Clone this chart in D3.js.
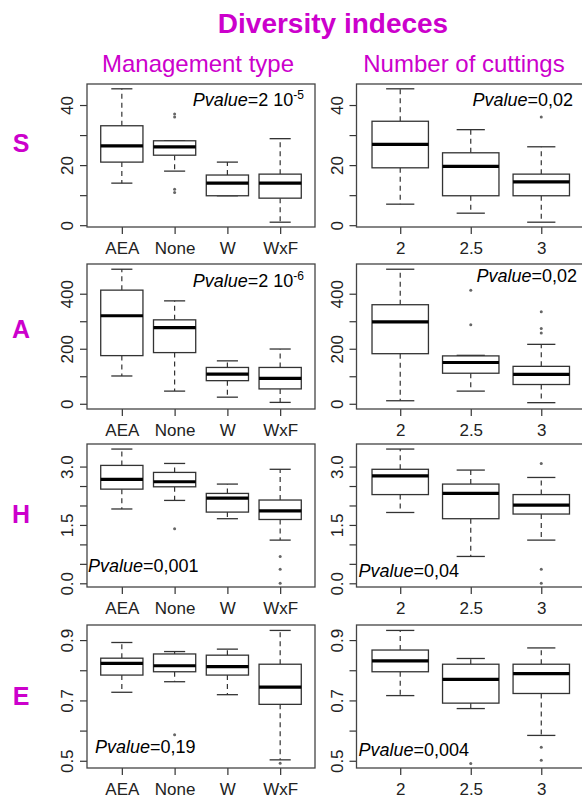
<!DOCTYPE html>
<html>
<head>
<meta charset="utf-8">
<script src="https://cdn.jsdelivr.net/npm/d3@7"></script>
<style>
  body { margin: 0; background: #fff; }
  svg { display: block; font-family: "Liberation Sans", Arial, sans-serif; }
</style>
</head>
<body>
<div id="chart"></div>
<script>
// groups
var management = ["AEA", "None", "W", "WxF"];
var cuttings = ["2", "2.5", "3"];
var indices = ["S", "A", "H", "E"];

// boxes: [lower whisker, Q1, median, Q3, upper whisker]
var S_management = [[14, 21, 26.4, 33.1, 45.4], [18, 23.3, 26.1, 28.1, 28.1], [9.8, 9.8, 14, 16.7, 21], [1, 9, 14, 17, 28.8]];
var S_management_out = [[], [36, 37, 12, 10.9], [], []];
var S_cuttings = [[7, 19.1, 26.9, 34.6, 45.4], [4, 9.8, 19.6, 24.1, 31.8], [1, 9.8, 14.4, 17, 26.1]];
var S_cuttings_out = [[], [], [36]];

var A_management = [[101, 175, 320, 413, 489], [46, 186, 277, 305, 374], [24, 84, 108, 132, 156], [5, 54, 92, 132, 199]];
var A_management_out = [[], [], [], []];
var A_cuttings = [[11, 182, 298, 360, 489], [46, 111, 150, 174, 176], [4, 70, 107, 136, 216]];
var A_cuttings_out = [[], [413, 287], [334, 274, 257]];

var H_management = [[1.91, 2.42, 2.67, 3.03, 3.45], [2.13, 2.48, 2.61, 2.85, 3.08], [1.66, 1.83, 2.19, 2.31, 2.55], [1.11, 1.64, 1.86, 2.14, 2.93]];
var H_management_out = [[], [1.40], [], [0.69, 0.36, 0.0]];
var H_cuttings = [[1.82, 2.28, 2.76, 2.93, 3.45], [0.69, 1.66, 2.31, 2.55, 2.91], [1.11, 1.78, 2.01, 2.28, 2.72]];
var H_cuttings_out = [[], [], [3.08, 0.36, 0.0]];

var E_management = [[0.727, 0.784, 0.823, 0.840, 0.892], [0.762, 0.795, 0.815, 0.854, 0.862], [0.719, 0.784, 0.812, 0.850, 0.870], [0.503, 0.687, 0.744, 0.820, 0.932]];
var E_management_out = [[], [0.586], [], [0.492]];
var E_cuttings = [[0.716, 0.795, 0.831, 0.867, 0.932], [0.673, 0.691, 0.770, 0.820, 0.839], [0.584, 0.723, 0.789, 0.820, 0.874]];
var E_cuttings_out = [[], [0.491], [0.545, 0.502]];

// y ticks and labelled ticks per index
var yTicks = [[0, 10, 20, 30, 40], [0, 100, 200, 300, 400], [0, 0.5, 1, 1.5, 2, 2.5, 3], [0.5, 0.6, 0.7, 0.8, 0.9]];
var yLabels = [["0", "", "20", "", "40"], ["0", "", "200", "", "400"], ["0.0", "", "", "1.5", "", "", "3.0"], ["0.5", "", "0.7", "", "0.9"]];

// p-values: [management, cuttings] per index
var pBase = [["2 10", "0,02"], ["2 10", "0,02"], ["0,001", "0,04"], ["0,19", "0,004"]];
var pExp = [["-5", ""], ["-6", ""], ["", ""], ["", ""]];

var magenta = "#cc00cc";
var lineCol = "#333";

var svg = d3.select("#chart").append("svg")
    .attr("width", 582)
    .attr("height", 798);

// layout
var cols = [
  {x0: 87, x1: 315, dom: [0.34, 4.66], cats: management},
  {x0: 356.5, x1: 585, dom: [0.38, 3.62], cats: cuttings}
];
var rows = [
  {y0: 84, y1: 227, dom: [-0.6, 47], labelY: 152},
  {y0: 264, y1: 409, dom: [-19, 508], labelY: 338},
  {y0: 444, y1: 587, dom: [-0.095, 3.58], labelY: 523},
  {y0: 625, y1: 768, dom: [0.476, 0.95], labelY: 705}
];
// pvalue placement: corner, dx, dy from that corner
var pPos = [
  [{a: "end", dx: -11, dy: 22}, {a: "end", dx: -12, dy: 22}],
  [{a: "end", dx: -11, dy: 23}, {a: "end", dx: -8, dy: 18}],
  [{a: "start", dx: 1, dy: -15}, {a: "start", dx: 2, dy: -10}],
  [{a: "start", dx: 8, dy: -15}, {a: "start", dx: 2, dy: -12}]
];

var boxData = [
  [S_management, S_cuttings], [A_management, A_cuttings],
  [H_management, H_cuttings], [E_management, E_cuttings]
];
var outData = [
  [S_management_out, S_cuttings_out], [A_management_out, A_cuttings_out],
  [H_management_out, H_cuttings_out], [E_management_out, E_cuttings_out]
];

// titles
svg.append("text")
  .attr("x", 333).attr("y", 33)
  .attr("text-anchor", "middle")
  .style("font-size", "28px").style("font-weight", "bold")
  .attr("fill", magenta)
  .text("Diversity indeces");

svg.append("text")
  .attr("x", 198).attr("y", 72)
  .attr("text-anchor", "middle")
  .style("font-size", "24px")
  .attr("fill", magenta)
  .text("Management type");

svg.append("text")
  .attr("x", 464).attr("y", 72)
  .attr("text-anchor", "middle")
  .style("font-size", "24px")
  .attr("fill", magenta)
  .text("Number of cuttings");

function drawPanel(ri, ci) {
  var r = rows[ri], c = cols[ci];
  var x = d3.scaleLinear().domain(c.dom).range([c.x0, c.x1]);
  var y = d3.scaleLinear().domain(r.dom).range([r.y1, r.y0]);
  var g = svg.append("g");
  var unit = x(2) - x(1);
  var bw = unit * 0.8;

  // y axis
  var ya = g.append("g")
    .attr("transform", "translate(" + c.x0 + ",0)")
    .call(d3.axisLeft(y).tickValues(yTicks[ri]).tickSize(7)
      .tickFormat(function(d, i) { return yLabels[ri][i]; }));
  ya.select(".domain").remove();
  ya.selectAll("line").attr("stroke", lineCol).attr("stroke-width", 1.2);
  ya.selectAll("text")
    .attr("x", null).attr("dy", null)
    .attr("text-anchor", "middle")
    .attr("transform", "translate(-14,0) rotate(-90)")
    .attr("fill", "#222")
    .style("font-size", "17px")
    .style("font-family", "Liberation Sans, Arial, sans-serif");

  // x axis
  var xa = g.append("g")
    .attr("transform", "translate(0," + r.y1 + ")")
    .call(d3.axisBottom(x).tickValues(d3.range(1, c.cats.length + 1)).tickSize(7)
      .tickFormat(function(d) { return c.cats[d - 1]; }));
  xa.select(".domain").remove();
  xa.selectAll("line").attr("stroke", lineCol).attr("stroke-width", 1.2);
  xa.selectAll("text")
    .attr("y", 27).attr("dy", null)
    .attr("fill", "#222")
    .style("font-size", "17px")
    .style("font-family", "Liberation Sans, Arial, sans-serif");

  // frame
  g.append("rect")
    .attr("x", c.x0).attr("y", r.y0)
    .attr("width", c.x1 - c.x0).attr("height", r.y1 - r.y0)
    .attr("fill", "none").attr("stroke", "#444").attr("stroke-width", 1.3);

  var boxes = boxData[ri][ci];
  boxes.forEach(function(b, i) {
    var cx = x(i + 1);
    var bg = g.append("g");
    // whiskers
    bg.append("line")
      .attr("x1", cx).attr("x2", cx).attr("y1", y(b[3])).attr("y2", y(b[4]))
      .attr("stroke", lineCol).attr("stroke-width", 1.2).attr("stroke-dasharray", "5,4");
    bg.append("line")
      .attr("x1", cx).attr("x2", cx).attr("y1", y(b[1])).attr("y2", y(b[0]))
      .attr("stroke", lineCol).attr("stroke-width", 1.2).attr("stroke-dasharray", "5,4");
    // caps
    [b[0], b[4]].forEach(function(v) {
      bg.append("line")
        .attr("x1", cx - bw / 4).attr("x2", cx + bw / 4)
        .attr("y1", y(v)).attr("y2", y(v))
        .attr("stroke", lineCol).attr("stroke-width", 1.3);
    });
    // box
    bg.append("rect")
      .attr("x", cx - bw / 2).attr("width", bw)
      .attr("y", y(b[3])).attr("height", y(b[1]) - y(b[3]))
      .attr("fill", "#fff").attr("stroke", lineCol).attr("stroke-width", 1.3);
    // median
    bg.append("line")
      .attr("x1", cx - bw / 2).attr("x2", cx + bw / 2)
      .attr("y1", y(b[2])).attr("y2", y(b[2]))
      .attr("stroke", "#000").attr("stroke-width", 3.2);
    // outliers
    bg.selectAll("circle")
      .data(outData[ri][ci][i])
      .enter().append("circle")
      .attr("cx", cx).attr("cy", function(d) { return y(d); })
      .attr("r", 1.5)
      .attr("fill", "#666");
  });

  // p-value
  var p = pPos[ri][ci];
  var px = p.a === "end" ? c.x1 + p.dx : c.x0 + p.dx;
  var py = p.dy > 0 ? r.y0 + p.dy : r.y1 + p.dy;
  var t = g.append("text")
    .attr("x", px).attr("y", py)
    .attr("text-anchor", p.a)
    .attr("fill", "#000")
    .style("font-size", "18px");
  t.append("tspan").style("font-style", "italic").text("Pvalue");
  t.append("tspan").text("=" + pBase[ri][ci]);
  if (pExp[ri][ci]) {
    t.append("tspan").attr("dy", -7).style("font-size", "12px").text(pExp[ri][ci]);
  }
}

indices.forEach(function(idx, ri) {
  svg.append("text")
    .attr("x", 21).attr("y", rows[ri].labelY)
    .attr("text-anchor", "middle")
    .style("font-size", "25px").style("font-weight", "bold")
    .attr("fill", magenta)
    .text(idx);
  drawPanel(ri, 0);
  drawPanel(ri, 1);
});
</script>
</body>
</html>
